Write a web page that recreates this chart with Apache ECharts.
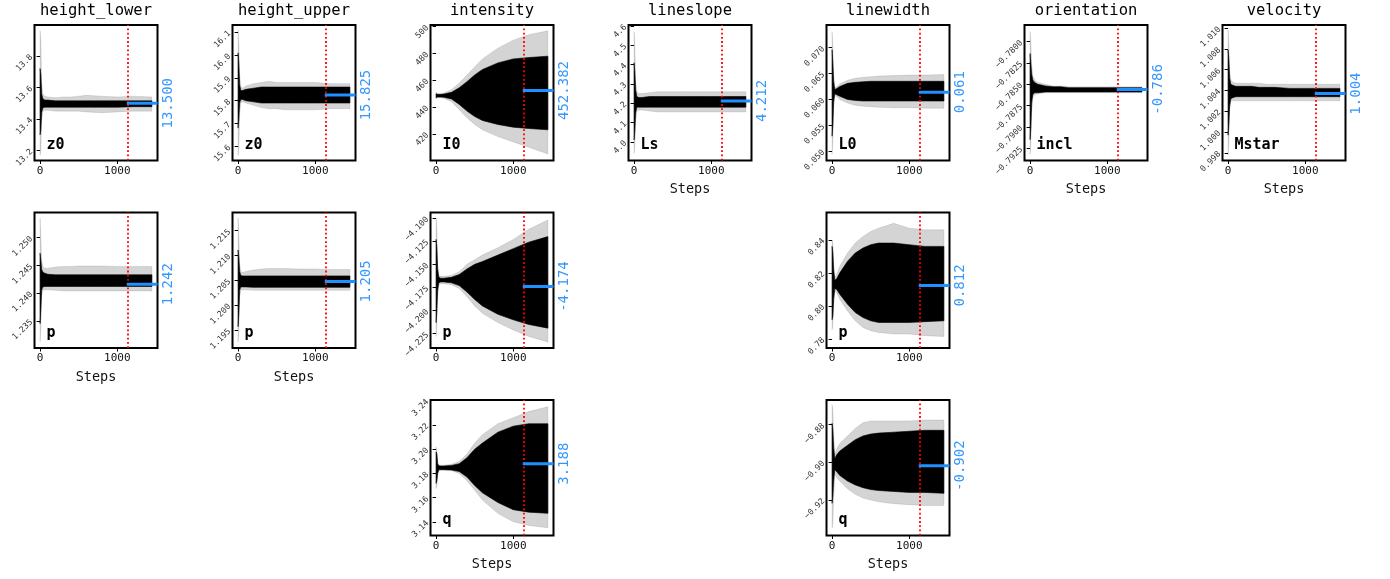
<!DOCTYPE html>
<html><head><meta charset="utf-8">
<script src="https://cdn.jsdelivr.net/npm/echarts@6/dist/echarts.min.js"></script>
<style>html,body{margin:0;padding:0;background:#fff}#c{width:1390px;height:579px}</style>
</head><body><div id="c"></div>
<script>
// ---------------- DATA ----------------
const columnTitles = ['height_lower','height_upper','intensity','lineslope','linewidth','orientation','velocity'];
const panelColumn = [0,1,2,3,4,5,6, 0,1,2,4, 2,4];
const panelRow    = [0,0,0,0,0,0,0, 1,1,1,1, 2,2];
const panelParams = ['z0','z0','I0','Ls','L0','incl','Mstar','p','p','p','p','q','q'];
const xTicks = [0, 1000];
const steps = [0, 10, 20, 35, 60, 100, 200, 300, 400, 500, 600, 800, 1000, 1200, 1449];
const burnIn = 1130;
const meanValues = [13.500, 15.825, 452.382, 4.212, 0.0614, -0.7856, 1.0037, 1.2416, 1.2048, -4.174, 0.8124, 3.188, -0.9018];
const meanLabels = ['13.500','15.825','452.382','4.212','0.061','-0.786','1.004','1.242','1.205','-4.174','0.812','3.188','-0.902'];
const yMin = [13.137, 15.538, 400.1, 3.904, 0.04821, -0.79394, 0.99726, 1.23012, 1.19143, -4.2405, 0.77456, 3.1287, -0.9389];
const yMax = [13.996, 16.132, 501.3, 4.605, 0.07437, -0.77805, 1.0103, 1.25452, 1.21863, -4.0939, 0.8565, 3.2406, -0.8669];
const yTickLabels = [
  ['13.2','13.4','13.6','13.8'],
  ['15.6','15.7','15.8','15.9','16.0','16.1'],
  ['420','440','460','480','500'],
  ['4.0','4.1','4.2','4.3','4.4','4.5','4.6'],
  ['0.050','0.055','0.060','0.065','0.070'],
  ['\u22120.7925','\u22120.7900','\u22120.7875','\u22120.7850','\u22120.7825','\u22120.7800'],
  ['0.998','1.000','1.002','1.004','1.006','1.008','1.010'],
  ['1.235','1.240','1.245','1.250'],
  ['1.195','1.200','1.205','1.210','1.215'],
  ['\u22124.225','\u22124.200','\u22124.175','\u22124.150','\u22124.125','\u22124.100'],
  ['0.78','0.80','0.82','0.84'],
  ['3.14','3.16','3.18','3.20','3.22','3.24'],
  ['\u22120.92','\u22120.90','\u22120.88']
];
// walker envelopes: outer (sparse walkers) and core (dense walkers), at `steps`
const outerLow = [
  [13.17, 13.20, 13.38, 13.45, 13.455, 13.455, 13.45, 13.45, 13.45, 13.45, 13.445, 13.44, 13.445, 13.45, 13.45],
  [15.56, 15.60, 15.74, 15.79, 15.795, 15.79, 15.78, 15.77, 15.765, 15.765, 15.76, 15.76, 15.76, 15.765, 15.765],
  [446, 446.5, 447, 447, 447, 446.5, 444, 438, 432, 427, 423, 418, 414, 410, 405],
  [3.94, 3.98, 4.10, 4.16, 4.165, 4.165, 4.16, 4.155, 4.155, 4.155, 4.155, 4.155, 4.155, 4.155, 4.155],
  [0.0494, 0.0520, 0.0585, 0.0608, 0.0605, 0.0600, 0.0593, 0.0589, 0.0587, 0.0586, 0.0585, 0.0584, 0.0584, 0.0583, 0.0583],
  [-0.7932, -0.7920, -0.7885, -0.7866, -0.7862, -0.7861, -0.7860, -0.7860, -0.7860, -0.7860, -0.7860, -0.7860, -0.7860, -0.7860, -0.7860],
  [0.9978, 0.9990, 1.0020, 1.0030, 1.0030, 1.0030, 1.0030, 1.0030, 1.0030, 1.0030, 1.0030, 1.0030, 1.0030, 1.0030, 1.0030],
  [1.2312, 1.2340, 1.2395, 1.2405, 1.2406, 1.2406, 1.2405, 1.2404, 1.2404, 1.2404, 1.2404, 1.2404, 1.2404, 1.2404, 1.2404],
  [1.1926, 1.1950, 1.2015, 1.2030, 1.2031, 1.2031, 1.2030, 1.2030, 1.2030, 1.2030, 1.2030, 1.2030, 1.2030, 1.2030, 1.2030],
  [-4.228, -4.215, -4.185, -4.172, -4.171, -4.171, -4.172, -4.176, -4.185, -4.195, -4.203, -4.213, -4.221, -4.228, -4.234],
  [0.7856, 0.7880, 0.8000, 0.8090, 0.8080, 0.8040, 0.7970, 0.7910, 0.7870, 0.7850, 0.7840, 0.7830, 0.7830, 0.7820, 0.7815],
  [3.1674, 3.1700, 3.1780, 3.1825, 3.1826, 3.1826, 3.1822, 3.1800, 3.1740, 3.1660, 3.1580, 3.1470, 3.1400, 3.1370, 3.1350],
  [-0.9350, -0.9320, -0.9200, -0.9060, -0.9080, -0.9100, -0.9140, -0.9170, -0.9190, -0.9200, -0.9210, -0.9220, -0.9225, -0.9230, -0.9230]
];
const outerHigh = [
  [13.96, 13.90, 13.64, 13.56, 13.545, 13.54, 13.535, 13.54, 13.54, 13.545, 13.55, 13.545, 13.54, 13.545, 13.54],
  [16.11, 16.05, 15.92, 15.86, 15.855, 15.865, 15.875, 15.88, 15.885, 15.88, 15.88, 15.88, 15.88, 15.875, 15.875],
  [451, 450.5, 450, 450, 450, 450.5, 453, 458, 464, 470, 476, 484, 490, 494, 497],
  [4.57, 4.50, 4.32, 4.26, 4.25, 4.25, 4.255, 4.26, 4.26, 4.26, 4.26, 4.26, 4.26, 4.26, 4.26],
  [0.0731, 0.0700, 0.0650, 0.0622, 0.0625, 0.0630, 0.0637, 0.0641, 0.0643, 0.0644, 0.0645, 0.0646, 0.0647, 0.0647, 0.0648],
  [-0.7788, -0.7800, -0.7825, -0.7840, -0.7845, -0.7848, -0.7850, -0.7852, -0.7852, -0.7853, -0.7853, -0.7853, -0.7853, -0.7853, -0.7853],
  [1.0098, 1.0085, 1.0060, 1.0050, 1.0048, 1.0047, 1.0047, 1.0047, 1.0047, 1.0046, 1.0046, 1.0046, 1.0046, 1.0046, 1.0046],
  [1.2535, 1.2500, 1.2460, 1.2448, 1.2445, 1.2445, 1.2447, 1.2448, 1.2448, 1.2449, 1.2449, 1.2449, 1.2448, 1.2448, 1.2448],
  [1.2175, 1.2140, 1.2085, 1.2068, 1.2066, 1.2068, 1.2071, 1.2073, 1.2074, 1.2074, 1.2074, 1.2073, 1.2073, 1.2072, 1.2072],
  [-4.100, -4.110, -4.150, -4.162, -4.163, -4.163, -4.162, -4.158, -4.150, -4.145, -4.140, -4.132, -4.123, -4.112, -4.102],
  [0.8400, 0.8380, 0.8260, 0.8170, 0.8190, 0.8240, 0.8320, 0.8380, 0.8420, 0.8450, 0.8470, 0.8500, 0.8470, 0.8460, 0.8460],
  [3.2019, 3.1990, 3.1900, 3.1870, 3.1868, 3.1868, 3.1875, 3.1900, 3.1960, 3.2050, 3.2120, 3.2210, 3.2260, 3.2310, 3.2350],
  [-0.8695, -0.8720, -0.8850, -0.8960, -0.8930, -0.8900, -0.8860, -0.8820, -0.8790, -0.8780, -0.8780, -0.8780, -0.8780, -0.8775, -0.8775]
];
const coreLow = [
  [13.30, 13.33, 13.44, 13.47, 13.475, 13.475, 13.475, 13.475, 13.475, 13.475, 13.475, 13.475, 13.475, 13.478, 13.478],
  [15.68, 15.72, 15.79, 15.805, 15.805, 15.80, 15.795, 15.79, 15.79, 15.79, 15.79, 15.79, 15.79, 15.79, 15.79],
  [447, 447.3, 447.5, 447.5, 447.5, 447.3, 446, 442, 437, 433, 430, 427, 425, 424, 423],
  [4.01, 4.06, 4.15, 4.18, 4.18, 4.18, 4.18, 4.18, 4.18, 4.18, 4.18, 4.18, 4.18, 4.18, 4.18],
  [0.0529, 0.0550, 0.0595, 0.0611, 0.0609, 0.0606, 0.0600, 0.0598, 0.0597, 0.0597, 0.0597, 0.0597, 0.0597, 0.0597, 0.0597],
  [-0.7915, -0.7900, -0.7872, -0.7862, -0.7860, -0.7860, -0.7859, -0.7859, -0.7859, -0.7859, -0.7859, -0.7859, -0.7859, -0.7859, -0.7859],
  [0.9997, 1.0008, 1.0025, 1.0032, 1.0033, 1.0034, 1.0034, 1.0034, 1.0034, 1.0034, 1.0034, 1.0034, 1.0034, 1.0034, 1.0034],
  [1.2345, 1.2370, 1.2405, 1.2411, 1.2412, 1.2412, 1.2412, 1.2412, 1.2412, 1.2412, 1.2412, 1.2412, 1.2412, 1.2412, 1.2412],
  [1.1957, 1.1985, 1.2030, 1.2037, 1.2037, 1.2037, 1.2036, 1.2036, 1.2036, 1.2036, 1.2036, 1.2036, 1.2036, 1.2036, 1.2036],
  [-4.213, -4.200, -4.178, -4.170, -4.169, -4.169, -4.170, -4.173, -4.180, -4.188, -4.195, -4.204, -4.210, -4.215, -4.219],
  [0.7917, 0.7940, 0.8040, 0.8105, 0.8100, 0.8070, 0.8010, 0.7960, 0.7930, 0.7910, 0.7900, 0.7900, 0.7900, 0.7905, 0.7910],
  [3.1717, 3.1740, 3.1800, 3.1830, 3.1831, 3.1831, 3.1828, 3.1815, 3.1770, 3.1700, 3.1640, 3.1560, 3.1500, 3.1480, 3.1470],
  [-0.9218, -0.9180, -0.9100, -0.9040, -0.9050, -0.9070, -0.9100, -0.9120, -0.9135, -0.9145, -0.9150, -0.9155, -0.9160, -0.9160, -0.9165]
];
const coreHigh = [
  [13.72, 13.68, 13.56, 13.53, 13.52, 13.52, 13.515, 13.515, 13.515, 13.515, 13.515, 13.515, 13.515, 13.515, 13.515],
  [16.01, 15.96, 15.87, 15.845, 15.845, 15.85, 15.855, 15.86, 15.86, 15.86, 15.86, 15.86, 15.86, 15.86, 15.86],
  [450, 449.7, 449.5, 449.5, 449.5, 449.7, 451, 454.5, 459, 464, 468, 473, 476, 477, 478],
  [4.41, 4.36, 4.27, 4.235, 4.23, 4.23, 4.235, 4.235, 4.235, 4.235, 4.235, 4.235, 4.235, 4.235, 4.235],
  [0.0696, 0.0670, 0.0635, 0.0619, 0.0621, 0.0625, 0.0631, 0.0633, 0.0634, 0.0635, 0.0635, 0.0635, 0.0635, 0.0635, 0.0635],
  [-0.7814, -0.7825, -0.7838, -0.7845, -0.7848, -0.7850, -0.7852, -0.7853, -0.7853, -0.7854, -0.7854, -0.7854, -0.7854, -0.7854, -0.7854],
  [1.0079, 1.0070, 1.0052, 1.0046, 1.0045, 1.0044, 1.0044, 1.0044, 1.0043, 1.0043, 1.0043, 1.0042, 1.0042, 1.0042, 1.0042],
  [1.2472, 1.2460, 1.2443, 1.2438, 1.2436, 1.2434, 1.2433, 1.2433, 1.2433, 1.2433, 1.2433, 1.2433, 1.2433, 1.2433, 1.2433],
  [1.2111, 1.2095, 1.2068, 1.2060, 1.2059, 1.2059, 1.2059, 1.2059, 1.2059, 1.2059, 1.2059, 1.2059, 1.2059, 1.2059, 1.2059],
  [-4.123, -4.132, -4.155, -4.164, -4.165, -4.165, -4.164, -4.161, -4.155, -4.150, -4.147, -4.140, -4.133, -4.126, -4.120],
  [0.8360, 0.8320, 0.8220, 0.8155, 0.8165, 0.8200, 0.8270, 0.8320, 0.8350, 0.8370, 0.8380, 0.8380, 0.8370, 0.8360, 0.8360],
  [3.1978, 3.1960, 3.1880, 3.1862, 3.1861, 3.1861, 3.1866, 3.1880, 3.1930, 3.2000, 3.2050, 3.2140, 3.2190, 3.2210, 3.2210],
  [-0.8793, -0.8830, -0.8920, -0.8980, -0.8960, -0.8940, -0.8910, -0.8880, -0.8860, -0.8850, -0.8845, -0.8840, -0.8835, -0.8830, -0.8830]
];

// ---------------- LAYOUT / STYLE ----------------
const MONO = "'DejaVu Sans Mono', monospace";
const colLeft = [34.5, 232.5, 430.5, 628.5, 826.5, 1024.5, 1222.5];
const rowTop = [25, 212.5, 400];
const PW = 123, PH = 135.5;
const X_MIN = -72.45, X_MAX = 1521.45;
const BLUE_START = X_MIN + 0.75 * (X_MAX - X_MIN);
const BLUE = '#1E90FF';

const grids = [], xAxes = [], yAxes = [], series = [], graphics = [];

function bandSeries(i, lo, hi, fill, z) {
  return {
    type: 'custom', xAxisIndex: i, yAxisIndex: i, silent: true, z: z, clip: true,
    encode: { x: 0, y: [1, 2] },
    data: steps.map((s, k) => [s, lo[k], hi[k]]),
    renderItem: function (params, api) {
      if (params.dataIndex !== 0) return null;
      const pts = [];
      for (let k = 0; k < steps.length; k++) pts.push(api.coord([steps[k], hi[k]]));
      for (let k = steps.length - 1; k >= 0; k--) pts.push(api.coord([steps[k], lo[k]]));
      return { type: 'polygon', shape: { points: pts }, style: { fill: fill, stroke: fill, lineWidth: 0.6 } };
    }
  };
}

panelColumn.forEach((c, i) => {
  const r = panelRow[i];
  grids.push({ left: colLeft[c], top: rowTop[r], width: PW, height: PH, show: true,
    borderColor: '#000', borderWidth: 2, backgroundColor: 'rgba(0,0,0,0)', containLabel: false });
  const isBottom = !panelRow.some((rr, j) => panelColumn[j] === c && rr > r);
  xAxes.push({
    type: 'value', gridIndex: i, min: X_MIN, max: X_MAX,
    axisLine: { show: false }, splitLine: { show: false },
    axisTick: { show: true, customValues: xTicks, length: 3.5, lineStyle: { color: '#000', width: 1 } },
    axisLabel: { customValues: xTicks, fontFamily: MONO, fontSize: 11, color: '#111', margin: 5,
      formatter: function (v) { return String(Math.round(v)); } },
    name: isBottom ? 'Steps' : '', nameLocation: 'middle', nameGap: 22,
    nameTextStyle: { fontFamily: MONO, fontSize: 13.5, color: '#111' }
  });
  const labels = yTickLabels[i];
  const tv = labels.map(s => parseFloat(s.replace('\u2212', '-')));
  yAxes.push({
    type: 'value', gridIndex: i, min: yMin[i], max: yMax[i],
    axisLine: { show: false }, splitLine: { show: false },
    axisTick: { show: true, customValues: tv, length: 3.5, lineStyle: { color: '#000', width: 1 } },
    axisLabel: {
      customValues: tv, rotate: 45, fontFamily: MONO, fontSize: 8.3, color: '#333', margin: 3,
      formatter: function (v) {
        let best = 0;
        tv.forEach((t, k) => { if (Math.abs(t - v) < Math.abs(tv[best] - v)) best = k; });
        return labels[best];
      }
    }
  });
  series.push(bandSeries(i, outerLow[i], outerHigh[i], 'rgba(0,0,0,0.17)', 2));
  series.push(bandSeries(i, coreLow[i], coreHigh[i], '#000', 3));
  series.push({
    type: 'line', xAxisIndex: i, yAxisIndex: i, silent: true, z: 5, symbol: 'none',
    data: [[BLUE_START, meanValues[i]], [X_MAX, meanValues[i]]],
    lineStyle: { color: BLUE, width: 3 },
    markLine: { silent: true, symbol: 'none', label: { show: false },
      lineStyle: { color: '#ff0000', width: 1.8, type: [1.8, 2.4] },
      data: [{ xAxis: burnIn }] }
  });
  graphics.push({ type: 'text', x: colLeft[c] + 12, y: rowTop[r] + PH - 15, z: 100,
    style: { text: panelParams[i], font: 'bold 15px ' + MONO, fill: '#000', align: 'left', verticalAlign: 'middle',
      textAlign: 'left', textVerticalAlign: 'middle' } });
});
columnTitles.forEach((t, c) => {
  graphics.push({ type: 'text', x: colLeft[c] + PW / 2, y: 11, z: 100,
    style: { text: t, font: '15.5px ' + MONO, fill: '#000', align: 'center', verticalAlign: 'middle',
      textAlign: 'center', textVerticalAlign: 'middle' } });
});

const chart = echarts.init(document.getElementById('c'), null, { renderer: 'canvas' });
chart.setOption({ animation: false, backgroundColor: '#fff', grid: grids, xAxis: xAxes, yAxis: yAxes, series: series, graphic: graphics });

const valueTexts = panelColumn.map((c, i) => {
  const p = chart.convertToPixel({ gridIndex: i }, [X_MAX, meanValues[i]]);
  return { type: 'text', x: p[0] + 10.5, y: p[1], rotation: Math.PI / 2, z: 100,
    style: { text: meanLabels[i], font: '14px ' + MONO, fill: '#3396ff', align: 'center', verticalAlign: 'middle',
      textAlign: 'center', textVerticalAlign: 'middle' } };
});
chart.setOption({ graphic: graphics.concat(valueTexts) });
</script>
</body></html>
